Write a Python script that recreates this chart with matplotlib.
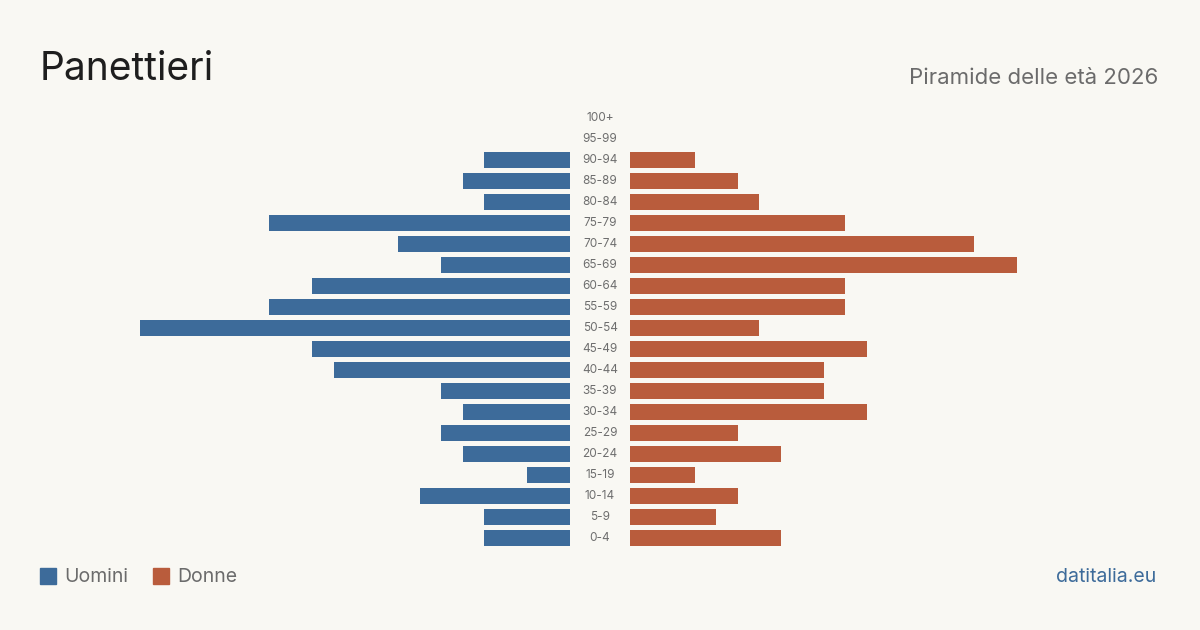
import matplotlib
matplotlib.use("Agg")
import matplotlib.pyplot as plt
from matplotlib.patches import Rectangle

plt.rcParams['font.family'] = ['Inter', 'DejaVu Sans']

age_groups = ["100+", "95-99", "90-94", "85-89", "80-84", "75-79", "70-74", "65-69",
              "60-64", "55-59", "50-54", "45-49", "40-44", "35-39", "30-34", "25-29",
              "20-24", "15-19", "10-14", "5-9", "0-4"]
men = [0, 0, 4, 5, 4, 14, 8, 6, 12, 14, 20, 12, 11, 6, 5, 6, 5, 2, 7, 4, 4]
women = [0, 0, 3, 5, 6, 10, 16, 18, 10, 10, 6, 11, 9, 9, 11, 5, 7, 3, 5, 4, 7]

BG = "#f9f8f3"
BLUE = "#3d6b9a"
ORANGE = "#b95c3c"
W, H = 1200, 630

fig = plt.figure(figsize=(12, 6.3), dpi=100, facecolor=BG)

scale_max = 20
top_px, bot_px = 107.5, 548.5
ax_b = (H - bot_px) / H
ax_h = (bot_px - top_px) / H

axL = fig.add_axes([140 / W, ax_b, 430 / W, ax_h])
axR = fig.add_axes([630 / W, ax_b, 430 / W, ax_h])
ypos = list(range(len(age_groups)))
for ax in (axL, axR):
    ax.set_facecolor("none")
    ax.set_ylim(len(age_groups) - 0.5, -0.5)
    ax.set_xlim(0, scale_max)
    ax.axis("off")
axL.invert_xaxis()
axL.barh(ypos, men, height=0.8, color=BLUE)
axR.barh(ypos, women, height=0.8, color=ORANGE)

for i, lab in enumerate(age_groups):
    axR.annotate(lab, xy=(0, i), xycoords="data", xytext=(-30, 0), textcoords="offset pixels",
                 ha="center", va="center", fontsize=8.5, color="#6e6e6e")

fig.text(40 / W, 1 - 69 / H, "Panettieri", fontsize=28, color="#1e1e1e", va="center", ha="left")
fig.text(1158 / W, 1 - 78 / H, "Piramide delle età 2026", fontsize=16, color="#6b6b6b",
         va="center", ha="right")

# legend
fig.patches.append(Rectangle((40 / W, 1 - 584 / H), 16 / W, 16 / H, transform=fig.transFigure,
                             color=BLUE, figure=fig))
fig.text(64 / W, 1 - 577 / H, "Uomini", fontsize=14, color="#6b6b6b", va="center", ha="left")
fig.patches.append(Rectangle((153 / W, 1 - 584 / H), 16 / W, 16 / H, transform=fig.transFigure,
                             color=ORANGE, figure=fig))
fig.text(177 / W, 1 - 577 / H, "Donne", fontsize=14, color="#6b6b6b", va="center", ha="left")
fig.text(1156 / W, 1 - 577 / H, "datitalia.eu", fontsize=14, color=BLUE, va="center", ha="right")

fig.savefig("out.png", dpi=100, facecolor=BG)
